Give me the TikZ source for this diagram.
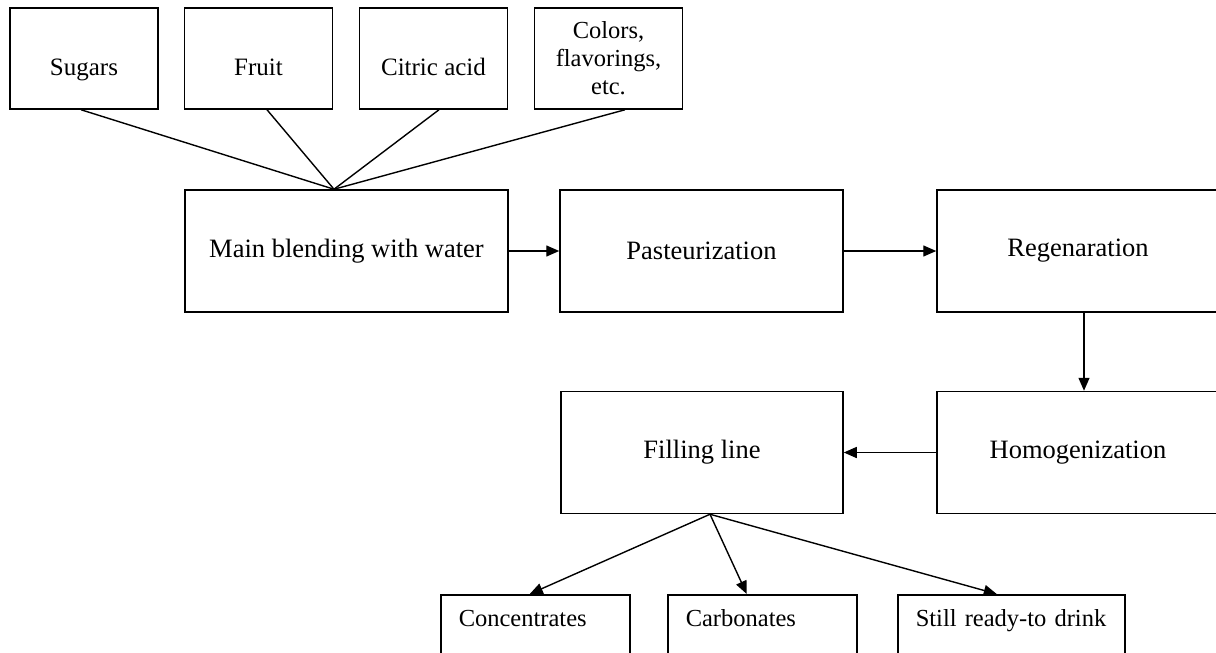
\documentclass[tikz,border=0pt]{standalone}
\usepackage{fontspec}
\setmainfont{Liberation Serif}
\usetikzlibrary{arrows.meta,calc}

\begin{document}
\begin{tikzpicture}[
  x=1pt, y=-1pt,
  box/.style={draw, line width=1.5pt, rectangle, inner sep=0pt, align=center,
              font=\fontsize{26.5}{27}\selectfont},
  topbox/.style={box, minimum width=148pt, minimum height=101pt,
                 font=\fontsize{25}{27}\selectfont},
  stagebox/.style={box, minimum height=122pt},
  outbox/.style={box, anchor=north west, minimum height=100pt, align=left,
                 inner xsep=18pt, inner ysep=0pt, text height=18pt, text depth=54pt,
                 font=\fontsize{24.5}{27}\selectfont},
  feed/.style={line width=1.4pt},
  flow/.style={line width=1.4pt, -{Triangle[length=13pt,width=11pt]}}
]
\useasboundingbox (0,0) rectangle (1216,653);
\clip (0,0) rectangle (1216,653);
\fill[white] (0,0) rectangle (1216,653);

% raw materials
\node[topbox, text height=33pt, text depth=0pt] (sugars) at (84,58.5) {Sugars};
\node[topbox, text height=33pt, text depth=0pt] (fruit)  at (258.5,58.5) {Fruit};
\node[topbox, text height=33pt, text depth=0pt] (citric) at (433.5,58.5) {Citric acid};
\node[topbox, font=\fontsize{24.5}{28}\selectfont] (colors) at (608.5,58.5) {Colors,\\flavorings,\\etc.};

% process stages
\node[stagebox, minimum width=323pt] (main)  at (346.5,251) {Main blending with water};
\node[stagebox, minimum width=283pt] (past)  at (701.5,251) {Pasteurization};
\node[stagebox, minimum width=282pt] (regen) at (1078,251) {Regenaration};
\node[stagebox, minimum width=282pt] (homog) at (1078,452.5) {Homogenization};
\node[stagebox, minimum width=282pt] (fill)  at (702,452.5) {Filling line};

% products
\node[outbox, minimum width=189pt, text width=153pt] (conc)  at (440,594) {Concentrates};
\node[outbox, minimum width=189pt, text width=153pt] (carb)  at (667,594) {Carbonates};
\node[outbox, minimum width=227pt, text width=191pt] (still) at (897,594) {Still ready-to drink};

% junction points
\coordinate (hub)  at ([xshift=-12.5pt]main.north);
\coordinate (fork) at ([xshift=8pt]fill.south);

% ingredients into blending
\draw[feed] ([xshift=-3pt]sugars.south)   -- (hub);
\draw[feed] ([xshift=8.5pt]fruit.south)   -- (hub);
\draw[feed] ([xshift=5.5pt]citric.south)  -- (hub);
\draw[feed] ([xshift=16.5pt]colors.south) -- (hub);

% main flow
\draw[flow] (main.east) -- (past.west);
\draw[flow] (past.east) -- (regen.west);
\draw[flow] ([xshift=6pt]regen.south) -- ([xshift=6pt]homog.north);
\draw[flow] (homog.west) -- (fill.east);

% product branches
\draw[flow] (fork) -- ([xshift=-5.5pt]conc.north);
\draw[flow] (fork) -- ([xshift=-15.5pt]carb.north);
\draw[flow] (fork) -- ([xshift=-14.5pt]still.north);
\end{tikzpicture}
\end{document}
